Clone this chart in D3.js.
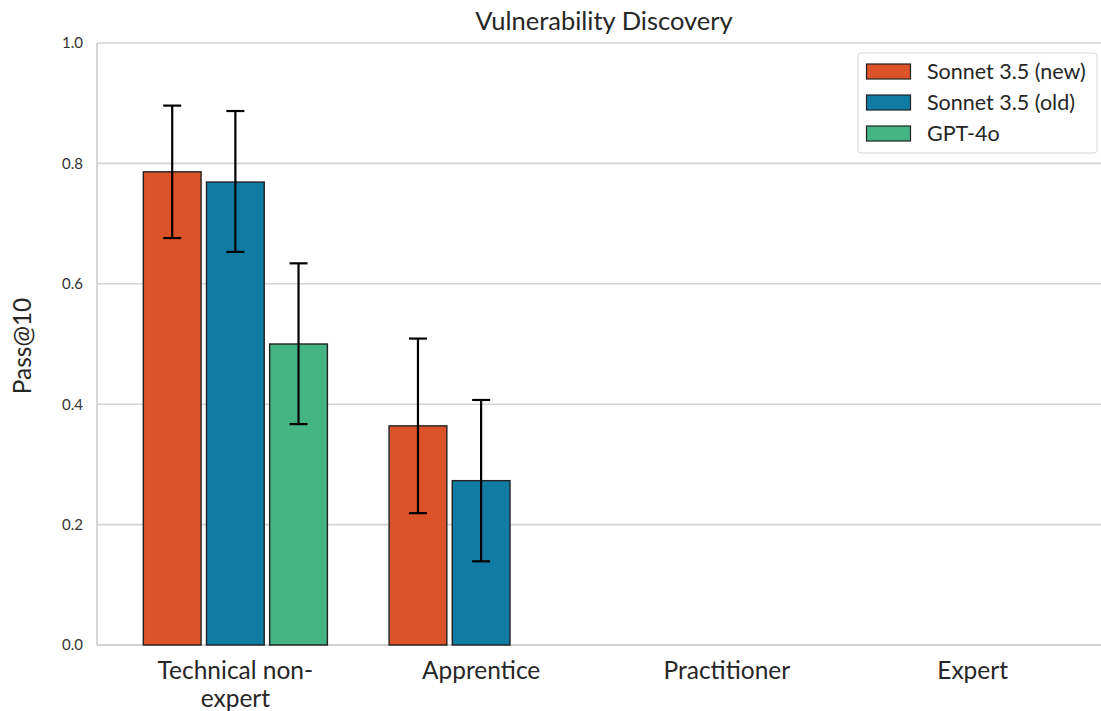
<!DOCTYPE html>
<html>
<head>
<meta charset="utf-8">
<script src="https://cdn.jsdelivr.net/npm/d3@7"></script>
<style>
  html, body { margin: 0; padding: 0; background: #fff; }
  svg { display: block; font-family: Lato, "Open Sans", sans-serif; }
</style>
</head>
<body>
<svg id="chart" width="1101" height="711"></svg>
<script>
const categories = ["Technical non-expert", "Apprentice", "Practitioner", "Expert"];
const categoryLines = [["Technical non-", "expert"], ["Apprentice"], ["Practitioner"], ["Expert"]];
const seriesNames = ["Sonnet 3.5 (new)", "Sonnet 3.5 (old)", "GPT-4o"];
const seriesColors = ["#dc5229", "#107ca4", "#44b485"];
const valuesNew = [0.786, 0.364, 0, 0];
const valuesOld = [0.769, 0.273, 0, 0];
const valuesGpt = [0.500, 0, 0, 0];
const errLowNew = [0.676, 0.219, null, null];
const errHighNew = [0.896, 0.509, null, null];
const errLowOld = [0.653, 0.139, null, null];
const errHighOld = [0.887, 0.407, null, null];
const errLowGpt = [0.367, null, null, null];
const errHighGpt = [0.634, null, null, null];
const yTicks = [0, 0.2, 0.4, 0.6, 0.8, 1.0];

const series = [
  { name: seriesNames[0], color: seriesColors[0], values: valuesNew, lo: errLowNew, hi: errHighNew },
  { name: seriesNames[1], color: seriesColors[1], values: valuesOld, lo: errLowOld, hi: errHighOld },
  { name: seriesNames[2], color: seriesColors[2], values: valuesGpt, lo: errLowGpt, hi: errHighGpt }
];

const svg = d3.select("#chart");
const pLeft = 97, pRight = 1111, pTop = 43, pBottom = 645;
const x = d3.scaleLinear().domain([-0.563, 3.563]).range([pLeft, pRight]);
const y = d3.scaleLinear().domain([0, 1]).range([pBottom, pTop]);
const barStep = 0.257, barW = 0.235;

// gridlines
svg.append("g").selectAll("line").data(yTicks).join("line")
  .attr("x1", pLeft).attr("x2", pRight)
  .attr("y1", d => y(d)).attr("y2", d => y(d))
  .attr("stroke", "#d4d4d4").attr("stroke-width", 1.6);

// spines
svg.append("line").attr("x1", pLeft).attr("x2", pLeft).attr("y1", pTop).attr("y2", pBottom)
  .attr("stroke", "#cccccc").attr("stroke-width", 1.6);
svg.append("line").attr("x1", pLeft).attr("x2", pRight).attr("y1", pBottom).attr("y2", pBottom)
  .attr("stroke", "#cccccc").attr("stroke-width", 1.6);

// y axis
const yAxis = d3.axisLeft(y).tickValues(yTicks).tickFormat(d3.format(".1f")).tickSize(0).tickPadding(14);
const gy = svg.append("g").attr("transform", `translate(${pLeft},0)`).call(yAxis);
gy.select(".domain").remove();
gy.selectAll("text").attr("font-size", 15).attr("fill", "#333").attr("font-family", "Lato");

// bars
series.forEach((s, si) => {
  const off = (si - 1) * barStep;
  const g = svg.append("g");
  g.selectAll("rect").data(s.values.map((v, i) => ({ v, i }))).join("rect")
    .attr("x", d => x(d.i + off - barW / 2))
    .attr("width", d => x(barW) - x(0))
    .attr("y", d => y(d.v))
    .attr("height", d => y(0) - y(d.v))
    .attr("fill", s.color)
    .attr("stroke", d => d.v > 0 ? "#222" : "#bdbdbd")
    .attr("stroke-width", 1.4);
  const errs = s.values.map((v, i) => ({ i, lo: s.lo[i], hi: s.hi[i] })).filter(d => d.lo !== null);
  const eg = svg.append("g").attr("stroke", "#000").attr("stroke-width", 2.2);
  errs.forEach(d => {
    const cx = x(d.i + off);
    eg.append("line").attr("x1", cx).attr("x2", cx).attr("y1", y(d.lo)).attr("y2", y(d.hi));
    eg.append("line").attr("x1", cx - 9).attr("x2", cx + 9).attr("y1", y(d.lo)).attr("y2", y(d.lo));
    eg.append("line").attr("x1", cx - 9).attr("x2", cx + 9).attr("y1", y(d.hi)).attr("y2", y(d.hi));
  });
});

// x labels
categoryLines.forEach((lines, i) => {
  const t = svg.append("text").attr("x", x(i)).attr("y", 679)
    .attr("text-anchor", "middle").attr("font-size", 24.5).attr("fill", "#262626");
  lines.forEach((ln, k) => {
    t.append("tspan").attr("x", x(i)).attr("dy", k === 0 ? 0 : 28).text(ln);
  });
});

// title
svg.append("text").attr("x", (pLeft + pRight) / 2).attr("y", 30)
  .attr("text-anchor", "middle").attr("font-size", 25.5).attr("fill", "#262626")
  .text("Vulnerability Discovery");

// y label
svg.append("text").attr("transform", `translate(31,${(pTop + pBottom) / 2 + 2}) rotate(-90)`)
  .attr("text-anchor", "middle").attr("font-size", 24.5).attr("fill", "#262626")
  .text("Pass@10");

// legend
const lg = svg.append("g").attr("transform", "translate(858,53)");
lg.append("rect").attr("x", 0).attr("y", 0).attr("width", 239).attr("height", 100)
  .attr("rx", 3).attr("fill", "#fff").attr("stroke", "#d8d8d8").attr("stroke-width", 1);
series.forEach((s, i) => {
  const yy = 11 + i * 31;
  lg.append("rect").attr("x", 8.5).attr("y", yy).attr("width", 44).attr("height", 15)
    .attr("fill", s.color).attr("stroke", "#222").attr("stroke-width", 1.2);
  lg.append("text").attr("x", 69).attr("y", yy + 15).attr("font-size", 21.5).attr("fill", "#262626")
    .text(s.name);
});
</script>
</body>
</html>
